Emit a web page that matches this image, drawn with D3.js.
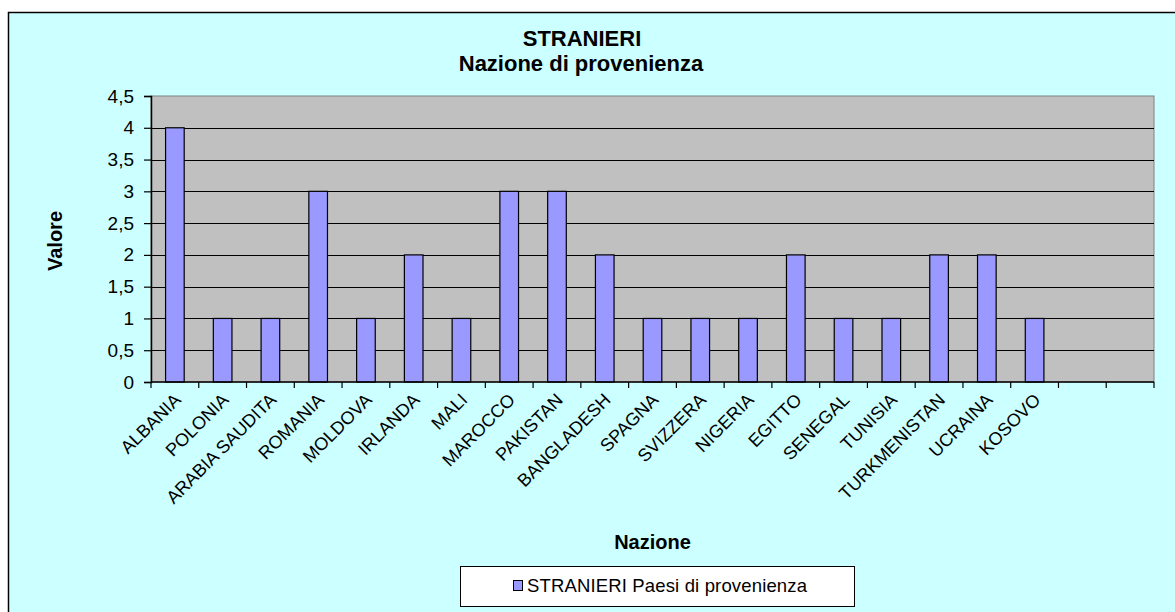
<!DOCTYPE html>
<meta charset="utf-8">
<head>
    <script src="https://d3js.org/d3.v7.min.js"></script>
    <style>
        body { margin: 0; background: #fff; font-family: Arial, "Liberation Sans", Helvetica, sans-serif; }
        svg text { font-family: Arial, "Liberation Sans", Helvetica, sans-serif; }
    </style>
</head>
<body>
    <svg></svg>
    <script>
        // Data
        var nazioni = ["ALBANIA", "POLONIA", "ARABIA SAUDITA", "ROMANIA", "MOLDOVA", "IRLANDA", "MALI",
            "MAROCCO", "PAKISTAN", "BANGLADESH", "SPAGNA", "SVIZZERA", "NIGERIA", "EGITTO", "SENEGAL",
            "TUNISIA", "TURKMENISTAN", "UCRAINA", "KOSOVO", "", ""];
        var valori = [4, 1, 1, 3, 1, 2, 1, 3, 3, 2, 1, 1, 1, 2, 1, 1, 2, 2, 1, null, null];
        var yTicks = [0, 0.5, 1, 1.5, 2, 2.5, 3, 3.5, 4, 4.5];
        var serieName = "STRANIERI Paesi di provenienza";

        var width = 1175, height = 612;
        var plot = { left: 151, top: 96, right: 1154, bottom: 382 };

        var svg = d3.select('svg')
            .attr('width', width)
            .attr('height', height);

        // chart background
        svg.append('rect')
            .attr('x', 8.5).attr('y', 12.5)
            .attr('width', width + 10).attr('height', height + 10)
            .attr('fill', '#CCFFFF')
            .attr('stroke', '#000').attr('stroke-width', 1.5);

        var x = d3.scaleBand()
            .domain(d3.range(nazioni.length))
            .range([plot.left, plot.right])
            .paddingInner(0).paddingOuter(0);

        var y = d3.scaleLinear()
            .domain([0, 4.5])
            .range([plot.bottom, plot.top]);

        // plot area
        svg.append('rect')
            .attr('x', plot.left).attr('y', plot.top)
            .attr('width', plot.right - plot.left).attr('height', plot.bottom - plot.top)
            .attr('fill', '#C0C0C0')
            .attr('stroke', '#808080').attr('stroke-width', 1);

        // gridlines
        svg.append('g')
            .selectAll('line')
            .data(yTicks.filter(function (d) { return d > 0 && d < 4.5; }))
            .enter().append('line')
            .attr('x1', plot.left).attr('x2', plot.right)
            .attr('y1', function (d) { return Math.round(y(d)) + 0.5; })
            .attr('y2', function (d) { return Math.round(y(d)) + 0.5; })
            .attr('stroke', '#000').attr('stroke-width', 1.2);

        // bars
        var barW = x.bandwidth() * 0.39;
        svg.append('g')
            .selectAll('rect')
            .data(valori.map(function (v, i) { return { i: i, v: v }; }).filter(function (d) { return d.v != null; }))
            .enter().append('rect')
            .attr('x', function (d) { return x(d.i) + (x.bandwidth() - barW) / 2; })
            .attr('y', function (d) { return y(d.v); })
            .attr('width', barW)
            .attr('height', function (d) { return y(0) - y(d.v); })
            .attr('fill', '#9999FF')
            .attr('stroke', '#000').attr('stroke-width', 1.2);

        // y axis
        var yAxis = d3.axisLeft(y)
            .tickValues(yTicks)
            .tickSize(7)
            .tickPadding(10)
            .tickFormat(function (d) { return String(d).replace('.', ','); });

        var gy = svg.append('g')
            .attr('transform', 'translate(' + plot.left + ',0)')
            .call(yAxis);
        gy.select('.domain').attr('stroke', '#000').attr('stroke-width', 1.5);
        gy.selectAll('.tick line').attr('stroke', '#000').attr('stroke-width', 1.2);
        gy.selectAll('.tick text').attr('font-size', 19).attr('fill', '#000');

        // x axis: ticks at category boundaries
        var bounds = d3.range(nazioni.length + 1).map(function (i) { return plot.left + i * x.bandwidth(); });
        var gx = svg.append('g');
        gx.append('line')
            .attr('x1', plot.left).attr('x2', plot.right)
            .attr('y1', plot.bottom).attr('y2', plot.bottom)
            .attr('stroke', '#000').attr('stroke-width', 1.5);
        gx.selectAll('.tk')
            .data(bounds)
            .enter().append('line')
            .attr('class', 'tk')
            .attr('x1', function (d) { return d; }).attr('x2', function (d) { return d; })
            .attr('y1', plot.bottom).attr('y2', plot.bottom + 6)
            .attr('stroke', '#000').attr('stroke-width', 1.2);

        gx.selectAll('text')
            .data(nazioni)
            .enter().append('text')
            .attr('transform', function (d, i) {
                return 'translate(' + (x(i) + x.bandwidth() / 2 + 7) + ',' + (plot.bottom + 19) + ')rotate(-45)';
            })
            .attr('text-anchor', 'end')
            .attr('font-size', 18)
            .attr('fill', '#000')
            .text(function (d) { return d; });

        // titles
        var title = svg.append('text')
            .attr('x', 581).attr('y', 46)
            .attr('text-anchor', 'middle')
            .attr('font-size', 22).attr('font-weight', 'bold');
        title.append('tspan').attr('x', 582).attr('dy', 0).text('STRANIERI');
        title.append('tspan').attr('x', 581).attr('dy', 25).text('Nazione di provenienza');

        svg.append('text')
            .attr('transform', 'translate(62,' + ((plot.top + plot.bottom) / 2 + 2) + ')rotate(-90)')
            .attr('text-anchor', 'middle')
            .attr('font-size', 20).attr('font-weight', 'bold')
            .text('Valore');

        svg.append('text')
            .attr('x', (plot.left + plot.right) / 2).attr('y', 549)
            .attr('text-anchor', 'middle')
            .attr('font-size', 20).attr('font-weight', 'bold')
            .text('Nazione');

        // legend
        var lg = svg.append('g');
        lg.append('rect')
            .attr('x', 460.5).attr('y', 566.5)
            .attr('width', 394).attr('height', 40)
            .attr('fill', '#fff').attr('stroke', '#000').attr('stroke-width', 1);
        lg.append('rect')
            .attr('x', 513.5).attr('y', 580.5)
            .attr('width', 9).attr('height', 10)
            .attr('fill', '#9999FF').attr('stroke', '#000').attr('stroke-width', 1);
        lg.append('text')
            .attr('x', 527).attr('y', 592)
            .attr('font-size', 18.5)
            .attr('textLength', 280)
            .text(serieName);
    </script>
</body>
</html>
